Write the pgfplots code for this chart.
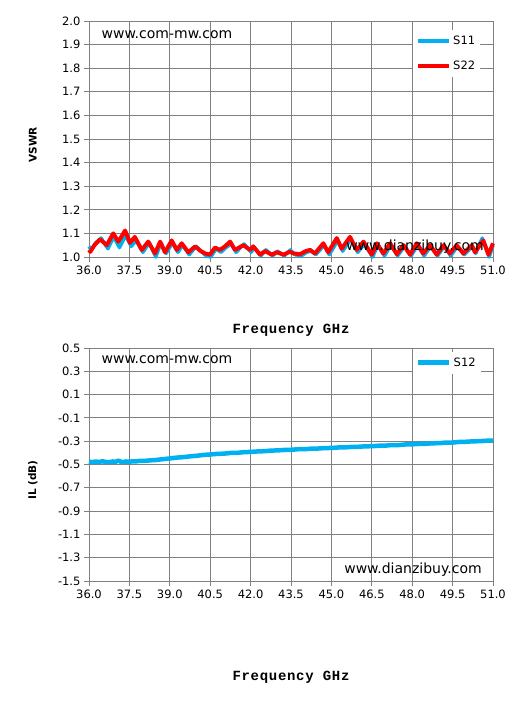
\documentclass[border=0pt]{standalone}
\usepackage{pgfplots}
\pgfplotsset{compat=1.18}
\usepackage{fontspec}
\setmainfont{DejaVu Sans}
\newfontfamily\monob[LetterSpace=5]{Liberation Mono}
\definecolor{sblue}{RGB}{0,176,240}
\definecolor{sred}{RGB}{255,0,0}
\definecolor{gridgray}{RGB}{128,128,128}
\pgfplotstableread{
x y
36.00 1.045
36.08 1.030
36.25 1.060
36.45 1.080
36.70 1.035
36.92 1.085
37.13 1.040
37.36 1.090
37.57 1.045
37.75 1.070
38.00 1.020
38.24 1.060
38.48 1.000
38.67 1.060
38.86 1.015
39.10 1.060
39.30 1.020
39.48 1.050
39.72 1.010
39.98 1.045
40.20 1.020
40.35 1.005
40.52 1.000
40.72 1.035
40.90 1.020
41.08 1.040
41.28 1.055
41.46 1.020
41.76 1.055
42.02 1.020
42.14 1.040
42.38 1.005
42.57 1.030
42.82 1.005
43.00 1.025
43.25 1.005
43.48 1.030
43.64 1.010
43.88 1.005
44.08 1.020
44.25 1.025
44.42 1.010
44.73 1.050
44.92 1.010
45.24 1.070
45.42 1.025
45.72 1.075
45.98 1.020
46.22 1.055
46.53 1.000
46.72 1.050
46.97 1.005
47.21 1.050
47.46 1.005
47.71 1.045
47.96 1.005
48.20 1.050
48.44 1.005
48.69 1.045
48.94 1.005
49.19 1.045
49.43 1.005
49.68 1.045
49.93 1.010
50.24 1.045
50.36 1.015
50.60 1.080
50.86 1.000
51.00 1.050
}\sonetable
\pgfplotstableread{
x y
36.00 1.030
36.05 1.022
36.20 1.050
36.41 1.075
36.66 1.050
36.90 1.100
37.09 1.065
37.34 1.112
37.52 1.060
37.70 1.085
37.96 1.030
38.20 1.065
38.45 1.015
38.64 1.065
38.82 1.020
39.07 1.070
39.26 1.030
39.44 1.058
39.69 1.020
39.94 1.045
40.15 1.025
40.31 1.015
40.49 1.010
40.68 1.040
40.86 1.030
41.05 1.045
41.24 1.065
41.42 1.030
41.73 1.050
41.98 1.030
42.10 1.045
42.35 1.010
42.54 1.025
42.78 1.010
42.97 1.020
43.22 1.010
43.45 1.022
43.60 1.015
43.84 1.012
44.05 1.025
44.21 1.030
44.39 1.015
44.70 1.058
44.88 1.020
45.20 1.080
45.38 1.035
45.69 1.085
45.94 1.030
46.19 1.065
46.50 1.010
46.69 1.058
46.93 1.015
47.18 1.058
47.43 1.012
47.68 1.050
47.92 1.010
48.17 1.058
48.41 1.015
48.66 1.050
48.91 1.010
49.16 1.050
49.40 1.015
49.65 1.050
49.90 1.015
50.21 1.050
50.33 1.020
50.64 1.070
50.83 1.010
51.00 1.058
}\stwotable
\pgfplotstableread{
x y
36.00 -0.475
36.12 -0.480
36.25 -0.474
36.38 -0.479
36.50 -0.472
36.62 -0.478
36.75 -0.480
36.88 -0.474
37.00 -0.476
37.10 -0.466
37.18 -0.477
37.25 -0.479
37.38 -0.474
37.50 -0.477
37.62 -0.472
37.75 -0.473
37.88 -0.469
38.00 -0.470
38.25 -0.465
38.50 -0.461
38.75 -0.454
39.00 -0.448
39.25 -0.441
39.50 -0.437
39.75 -0.430
40.00 -0.425
40.25 -0.418
40.50 -0.414
40.75 -0.409
41.00 -0.407
41.25 -0.401
41.50 -0.400
41.75 -0.394
42.00 -0.392
42.25 -0.388
42.50 -0.386
42.75 -0.381
43.00 -0.379
43.25 -0.375
43.50 -0.374
43.75 -0.369
44.00 -0.369
44.25 -0.364
44.50 -0.363
44.75 -0.359
45.00 -0.358
45.25 -0.354
45.50 -0.353
45.75 -0.349
46.00 -0.348
46.25 -0.344
46.50 -0.343
46.75 -0.339
47.00 -0.338
47.25 -0.333
47.50 -0.333
47.75 -0.328
48.00 -0.327
48.25 -0.323
48.50 -0.322
48.75 -0.318
49.00 -0.317
49.25 -0.312
49.50 -0.312
49.75 -0.306
50.00 -0.305
50.25 -0.301
50.50 -0.300
50.75 -0.296
51.00 -0.295
}\sotwtable
\begin{document}
\begin{tikzpicture}[x=1pt,y=1pt]
\useasboundingbox (0,0) rectangle (531,709);
\pgfplotsset{
  common/.style={
    scale only axis, width=404pt,
    xmin=36, xmax=51,
    xtick={36,37.5,39,40.5,42,43.5,45,46.5,48,49.5,51},
    grid=major, major grid style={gridgray, line width=0.8pt},
    axis line style={gridgray, line width=0.8pt},
    tick align=outside, xtick pos=bottom, ytick pos=left,
    major tick length=5pt, tick style={gridgray, line width=0.8pt},
    tick label style={font=\fontsize{11.5}{13}\selectfont},
    /pgf/number format/assume math mode=true,
    /pgf/number format/fixed,
    /pgf/number format/fixed zerofill,
    /pgf/number format/precision=1,
    scaled ticks=false,
    clip=false,
    legend style={draw=none, fill=white, font=\fontsize{11.5}{13}\selectfont,
      anchor=north west, inner xsep=3pt, inner ysep=4pt, row sep=11pt},
    legend cell align=left,
    legend image code/.code={\draw[##1] (0pt,0pt) -- (31pt,0pt);},
    xlabel style={font=\monob\bfseries\fontsize{14}{16}\selectfont, anchor=center},
    ylabel style={font=\bfseries\fontsize{10.5}{12}\selectfont, anchor=center},
  }
}
\begin{axis}[common, height=236pt, at={(89pt,452pt)}, anchor=south west,
  ymin=1.0, ymax=2.0, ytick={1.0,1.1,...,2.0},
  xlabel={Frequency GHz}, xlabel style={at={(axis description cs:0.5,-0.31)}},
  ylabel={VSWR}, ylabel style={at={(axis description cs:-0.139,0.475)}},
  legend style={at={(0.802,0.962)}}]
\addplot[sblue, line width=3.5pt, line join=round] table[x=x,y=y] {\sonetable};
\addlegendentry{S11}
\addplot[sred, line width=4pt, line join=round] table[x=x,y=y] {\stwotable};
\addlegendentry{S22}
\node[font=\fontsize{14}{16}\selectfont] at (rel axis cs:0.193,0.94) {www.com-mw.com};
\node[font=\fontsize{14}{16}\selectfont] at (rel axis cs:0.807,0.044) {www.dianzibuy.com};
\end{axis}
\begin{axis}[common, height=233pt, at={(89pt,128pt)}, anchor=south west,
  ymin=-1.5, ymax=0.5, ytick={-1.5,-1.3,-1.1,-0.9,-0.7,-0.5,-0.3,-0.1,0.1,0.3,0.5},
  xlabel={Frequency GHz}, xlabel style={at={(axis description cs:0.5,-0.412)}},
  ylabel={IL (dB)}, ylabel style={at={(axis description cs:-0.139,0.433)}},
  legend style={at={(0.802,0.985)}}]
\addplot[sblue, line width=4.5pt, line join=round] table[x=x,y=y] {\sotwtable};
\addlegendentry{S12}
\node[font=\fontsize{14}{16}\selectfont] at (rel axis cs:0.193,0.948) {www.com-mw.com};
\node[font=\fontsize{14}{16}\selectfont] at (rel axis cs:0.802,0.047) {www.dianzibuy.com};
\end{axis}
\end{tikzpicture}
\end{document}
